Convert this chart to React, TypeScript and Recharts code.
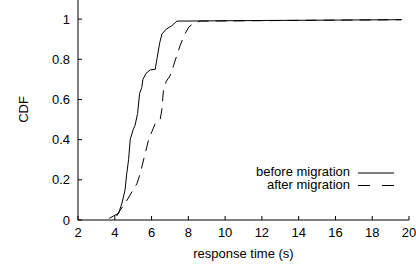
import React from "react";
import { LineChart, Line, XAxis, YAxis, Legend } from "recharts";

// response time (s) vs CDF
const beforeX = [3.7, 3.93, 4.2, 4.38, 4.56, 4.65, 4.75, 4.84, 5.0, 5.1, 5.24, 5.35, 5.47, 5.53, 5.7, 5.93, 6.2, 6.29, 6.44, 6.56, 6.8, 7.1, 7.38, 12, 19.6];
const beforeY = [0.008, 0.02, 0.033, 0.08, 0.15, 0.23, 0.3, 0.4, 0.45, 0.47, 0.53, 0.63, 0.66, 0.7, 0.73, 0.747, 0.75, 0.8, 0.88, 0.925, 0.95, 0.967, 0.99, 0.993, 0.997];
const afterX = [4.1, 4.3, 4.56, 4.93, 5.2, 5.38, 5.65, 5.84, 6.02, 6.2, 6.47, 6.56, 6.65, 6.8, 7.02, 7.2, 7.38, 7.56, 7.78, 8.02, 8.3, 8.65, 19.6];
const afterY = [0.02, 0.05, 0.083, 0.14, 0.18, 0.23, 0.33, 0.4, 0.44, 0.48, 0.5, 0.55, 0.65, 0.69, 0.72, 0.77, 0.82, 0.87, 0.92, 0.96, 0.98, 0.99, 0.997];
const xTicks = [2, 4, 6, 8, 10, 12, 14, 16, 18, 20];
const yTicks = [0, 0.2, 0.4, 0.6, 0.8, 1];
const yTickLabels = ["0", "0.2", "0.4", "0.6", "0.8", "1"];

const beforeData = beforeX.map((x, i) => ({ x, y: beforeY[i] }));
const afterData = afterX.map((x, i) => ({ x, y: afterY[i] }));

const FONT = "'Liberation Sans', Arial, sans-serif";
const DASH = "11 7";

const BottomTick = (props: any) => {
  const { x, y, payload } = props;
  return (
    <g>
      <line x1={x} x2={x} y1={y} y2={y - 4} stroke="#000" />
      <text x={x} y={y + 17} textAnchor="middle" fontSize={13} fill="#000" fontFamily={FONT}>
        {payload.value}
      </text>
    </g>
  );
};

const LeftTick = (props: any) => {
  const { x, y, payload } = props;
  return (
    <g>
      <line x1={x} x2={x + 4} y1={y} y2={y} stroke="#000" />
      <text x={x - 8} y={y + 4.5} textAnchor="end" fontSize={13} fill="#000" fontFamily={FONT}>
        {yTickLabels[yTicks.indexOf(payload.value)]}
      </text>
    </g>
  );
};

const TopTick = (props: any) => {
  const { x, y } = props;
  return <line x1={x} x2={x} y1={y} y2={y + 4} stroke="#000" />;
};

const RightTick = (props: any) => {
  const { x, y } = props;
  return <line x1={x} x2={x - 4} y1={y} y2={y} stroke="#000" />;
};

const CdfLabel = (props: any) => {
  const { viewBox } = props;
  const cx = 23;
  const cy = viewBox.y + viewBox.height / 2 - 0;
  return (
    <text
      x={cx}
      y={cy}
      transform={`rotate(-90, ${cx}, ${cy})`}
      textAnchor="middle"
      dominantBaseline="central"
      fontSize={13}
      fill="#000"
      fontFamily={FONT}
    >
      CDF
    </text>
  );
};

const LegendBox = () => (
  <svg width={170} height={30} style={{ fontFamily: FONT, display: "block" }}>
    <text x={110} y={11} textAnchor="end" fontSize={13} fill="#000">
      before migration
    </text>
    <line x1={118} x2={154} y1={8} y2={8} stroke="#000" />
    <text x={110} y={23.5} textAnchor="end" fontSize={13} fill="#000">
      after migration
    </text>
    <line x1={118} x2={154} y1={20.5} y2={20.5} stroke="#000" strokeDasharray="12 12" />
  </svg>
);

export default function App() {
  return (
    <div style={{ position: "absolute", left: 0, top: -5, width: 416, height: 270, background: "#fff" }}>
      <LineChart width={416} height={270} margin={{ top: 4, right: 7, bottom: 7, left: 0 }}>
        <XAxis
          xAxisId="bottom"
          type="number"
          dataKey="x"
          domain={[2, 20]}
          ticks={xTicks}
          allowDataOverflow
          height={38}
          tickSize={0}
          tickMargin={0}
          tickLine={false}
          axisLine={{ stroke: "#000" }}
          tick={<BottomTick />}
          interval={0}
          label={{
            value: "response time (s)",
            position: "insideBottom",
            offset: 0,
            fontSize: 13,
            fill: "#000",
            fontFamily: FONT,
          }}
        />
        <XAxis
          xAxisId="top"
          orientation="top"
          type="number"
          dataKey="x"
          domain={[2, 20]}
          ticks={xTicks}
          allowDataOverflow
          height={0}
          tickSize={0}
          tickMargin={0}
          tickLine={false}
          axisLine={{ stroke: "#000" }}
          tick={<TopTick />}
          interval={0}
        />
        <YAxis
          yAxisId="left"
          type="number"
          domain={[0, 1.1]}
          ticks={yTicks}
          allowDataOverflow
          width={78}
          tickSize={0}
          tickMargin={0}
          tickLine={false}
          axisLine={{ stroke: "#000" }}
          tick={<LeftTick />}
          interval={0}
          label={<CdfLabel />}
        />
        <YAxis
          yAxisId="right"
          orientation="right"
          type="number"
          domain={[0, 1.1]}
          ticks={yTicks}
          allowDataOverflow
          width={0}
          tickSize={0}
          tickMargin={0}
          tickLine={false}
          axisLine={{ stroke: "#000" }}
          tick={<RightTick />}
          interval={0}
        />
        <Line
          xAxisId="bottom"
          yAxisId="left"
          data={beforeData}
          dataKey="y"
          type="linear"
          stroke="#000"
          strokeWidth={1}
          dot={false}
          isAnimationActive={false}
        />
        <Line
          xAxisId="bottom"
          yAxisId="left"
          data={afterData}
          dataKey="y"
          type="linear"
          stroke="#000"
          strokeWidth={1}
          strokeDasharray={DASH}
          dot={false}
          isAnimationActive={false}
        />
        <Legend
          layout="horizontal"
          verticalAlign="middle"
          align="center"
          content={<LegendBox />}
          wrapperStyle={{ position: "absolute", left: 240, top: 170, width: 170, height: 30 }}
        />
      </LineChart>
    </div>
  );
}
